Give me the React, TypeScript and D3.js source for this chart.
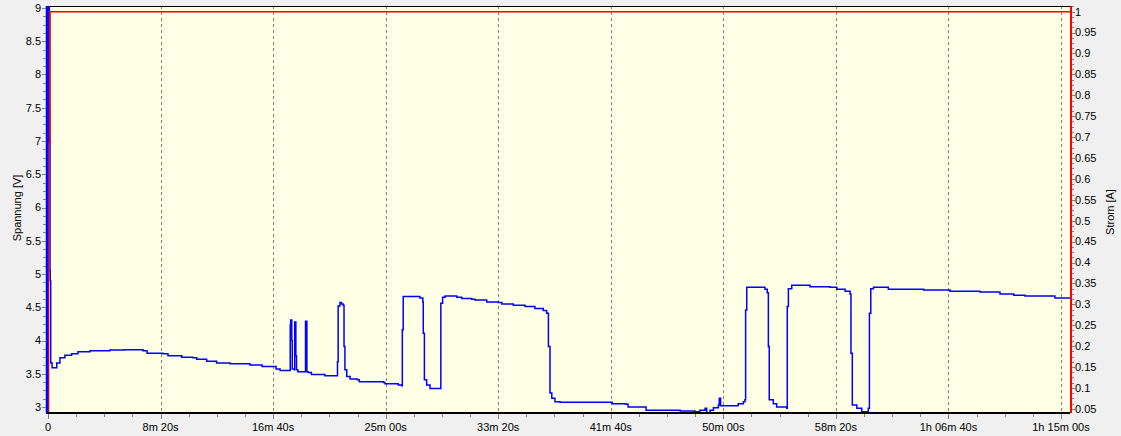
import React from "react";
import * as d3 from "d3";

const W = 1121;
const H = 436;
const PLOT = { left: 48, right: 1070, top: 6, bottom: 413 };

// Voltage series (time in seconds, volts)
const TIME_S = [
  0, 1, 5, 6, 8, 9, 10, 12, 13, 18, 39, 53, 75, 105, 133, 187, 275, 340, 422, 440,
  511, 533, 594, 644, 661, 705, 742, 749, 809, 897, 951, 1013, 1031, 1075, 1076, 1078, 1081, 1083, 1085, 1094,
  1096, 1099, 1101, 1104, 1110, 1142, 1144, 1148, 1150, 1156, 1170, 1222, 1230, 1282, 1286, 1289, 1297, 1304, 1311, 1315,
  1319, 1327, 1342, 1374, 1383, 1490, 1497, 1556, 1571, 1574, 1578, 1638, 1652, 1665, 1667, 1672, 1682, 1697, 1741, 1745,
  1753, 1764, 1816, 1838, 1882, 1897, 1949, 2000, 2016, 2067, 2119, 2163, 2200, 2215, 2223, 2230, 2238, 2252, 2275, 2506,
  2568, 2577, 2657, 2808, 2874, 2896, 2919, 2926, 2941, 2956, 2978, 2982, 2988, 3044, 3066, 3089, 3096, 3099, 3104, 3163,
  3185, 3195, 3200, 3204, 3222, 3237, 3282, 3284, 3289, 3304, 3355, 3385, 3474, 3504, 3541, 3563, 3567, 3573, 3593, 3615,
  3629, 3644, 3649, 3655, 3667, 3733, 3785, 3890, 4007, 4140, 4229, 4290, 4340, 4473, 4540,
];
const VOLTAGE_V = [
  2.85, 9.6, 9.6, 7.45, 7.0, 5.05, 4.9, 3.68, 3.66, 3.59, 3.66, 3.74, 3.78, 3.8, 3.83, 3.845, 3.857, 3.86, 3.846, 3.81,
  3.8, 3.77, 3.75, 3.74, 3.72, 3.69, 3.69, 3.66, 3.65, 3.63, 3.61, 3.57, 3.55, 3.55, 4.23, 4.31, 4.31, 4.0, 3.57, 3.56,
  4.28, 4.28, 3.77, 3.56, 3.53, 3.53, 4.29, 4.29, 3.53, 3.52, 3.49, 3.49, 3.47, 3.47, 3.68, 4.52, 4.57, 4.55, 4.53, 3.91,
  3.56, 3.46, 3.42, 3.41, 3.38, 3.37, 3.35, 3.33, 3.32, 4.16, 4.66, 4.66, 4.64, 4.58, 4.11, 3.41, 3.33, 3.28, 3.28, 4.56,
  4.65, 4.67, 4.65, 4.63, 4.62, 4.61, 4.58, 4.57, 4.55, 4.53, 4.51, 4.48, 4.45, 4.41, 3.91, 3.21, 3.13, 3.08, 3.07, 3.05,
  3.04, 3.0, 2.95, 2.94, 2.93, 2.95, 2.98, 2.91, 2.95, 2.99, 3.03, 3.13, 3.02, 3.02, 3.05, 3.08, 3.11, 4.46, 4.8, 4.8,
  4.77, 4.72, 3.91, 3.11, 3.05, 3.0, 2.98, 4.51, 4.78, 4.83, 4.83, 4.81, 4.8, 4.77, 4.74, 4.7, 3.81, 3.03, 2.98, 2.93,
  2.93, 2.98, 4.41, 4.78, 4.8, 4.77, 4.77, 4.76, 4.74, 4.73, 4.7, 4.68, 4.67, 4.64, 4.63,
];

// Current series (time in seconds, amperes)
const CURRENT_T = [0, 2, 2.2, 8.5, 9, 4540];
const CURRENT_A = [0, 0, 0.686, 0.686, 1.0, 1.0];

const X_TICKS = [0, 500, 1000, 1500, 2000, 2500, 3000, 3500, 4000, 4500];
const X_TICK_LABELS = ["0", "8m 20s", "16m 40s", "25m 00s", "33m 20s", "41m 40s", "50m 00s", "58m 20s", "1h 06m 40s", "1h 15m 00s"];
const V_TICKS = [3, 3.5, 4, 4.5, 5, 5.5, 6, 6.5, 7, 7.5, 8, 8.5, 9];
const A_TICKS = [0.05, 0.1, 0.15, 0.2, 0.25, 0.3, 0.35, 0.4, 0.45, 0.5, 0.55, 0.6, 0.65, 0.7, 0.75, 0.8, 0.85, 0.9, 0.95, 1];

const FONT = "'Liberation Sans', Arial, sans-serif";

export default function App() {
  const x = d3.scaleLinear().domain([0, 4540]).range([PLOT.left, PLOT.right]);
  const yV = d3.scaleLinear().domain([2.91, 9.03]).range([PLOT.bottom, PLOT.top]);
  const yA = d3.scaleLinear().domain([0.04, 1.0136]).range([PLOT.bottom, PLOT.top]);

  const vData = TIME_S.map((t, i) => [t, VOLTAGE_V[i]] as [number, number]);
  const aData = CURRENT_T.map((t, i) => [t, CURRENT_A[i]] as [number, number]);

  const vLine = d3.line<[number, number]>().x((d) => x(d[0])).y((d) => yV(d[1])).curve(d3.curveStepAfter);
  const aLine = d3.line<[number, number]>().x((d) => x(d[0])).y((d) => yA(d[1])).curve(d3.curveStepAfter);

  const xMinor = d3.range(0, 4541, 125).filter((t) => t % 500 !== 0);
  const vMinor = d3.range(24, 73).map((i) => i * 0.125).filter((v) => v >= 2.91 && v <= 9.03 && Math.abs(v * 2 - Math.round(v * 2)) > 1e-6);
  const aMinor = d3.range(4, 82).map((i) => i * 0.0125).filter((a) => a >= 0.04 && a <= 1.0136 && Math.abs(a * 20 - Math.round(a * 20)) > 1e-6);

  const tickColor = "#808080";

  return (
    <svg width={W} height={H} style={{ position: "absolute", left: 0, top: 0 }} fontFamily={FONT}>
      <defs>
        <clipPath id="plotclip">
          <rect x={PLOT.left} y={PLOT.top} width={PLOT.right - PLOT.left} height={PLOT.bottom - PLOT.top} />
        </clipPath>
      </defs>
      <rect x={0} y={0} width={W} height={H} fill="#F0F0F0" />
      <rect x={PLOT.left} y={PLOT.top} width={PLOT.right - PLOT.left} height={PLOT.bottom - PLOT.top} fill="#FFFFE6" />

      {/* vertical grid */}
      {X_TICKS.filter((t) => t > 0).map((t) => (
        <line key={"g" + t} x1={Math.round(x(t)) + 0.5} x2={Math.round(x(t)) + 0.5} y1={PLOT.top} y2={PLOT.bottom}
          stroke="#808080" strokeWidth={1} strokeDasharray="3,3" />
      ))}

      {/* top border */}
      <line x1={PLOT.left} x2={PLOT.right} y1={PLOT.top + 0.5} y2={PLOT.top + 0.5} stroke="#000" strokeWidth={1} />

      {/* series */}
      <g clipPath="url(#plotclip)">
        <path d={vLine(vData) || ""} fill="none" stroke="#0000FF" strokeWidth={1.5} />
        <path d={aLine(aData) || ""} fill="none" stroke="#FF0000" strokeWidth={1.6} />
      </g>

      {/* bottom axis */}
      <line x1={PLOT.left - 2} x2={PLOT.right} y1={PLOT.bottom} y2={PLOT.bottom} stroke="#000" strokeWidth={2} />
      {xMinor.map((t) => (
        <line key={"xm" + t} x1={Math.round(x(t)) + 0.5} x2={Math.round(x(t)) + 0.5} y1={PLOT.bottom + 1} y2={PLOT.bottom + 4}
          stroke={tickColor} />
      ))}
      {X_TICKS.map((t, i) => (
        <g key={"xt" + t}>
          <line x1={Math.round(x(t)) + 0.5} x2={Math.round(x(t)) + 0.5} y1={PLOT.bottom + 1} y2={PLOT.bottom + 6} stroke={tickColor} />
          <text x={x(t)} y={PLOT.bottom + 18} textAnchor="middle" fontSize={11} fill="#000">{X_TICK_LABELS[i]}</text>
        </g>
      ))}

      {/* left axis */}
      <line x1={PLOT.left - 1} x2={PLOT.left - 1} y1={PLOT.top} y2={PLOT.bottom} stroke="#0000FF" strokeWidth={2.5} />
      {vMinor.map((v) => (
        <line key={"vm" + v} x1={PLOT.left - 5} x2={PLOT.left - 2} y1={Math.round(yV(v)) + 0.5} y2={Math.round(yV(v)) + 0.5} stroke={tickColor} />
      ))}
      {V_TICKS.map((v) => (
        <g key={"vt" + v}>
          <line x1={PLOT.left - 6} x2={PLOT.left - 2} y1={Math.round(yV(v)) + 0.5} y2={Math.round(yV(v)) + 0.5} stroke={tickColor} />
          <text x={PLOT.left - 7} y={yV(v)} dy="0.35em" textAnchor="end" fontSize={11} fill="#000">{String(v)}</text>
        </g>
      ))}
      <text transform={`translate(17, 208) rotate(-90)`} textAnchor="middle" fontSize={11} fill="#000" dy="0.35em">Spannung [V]</text>

      {/* right axis */}
      <line x1={PLOT.right + 1} x2={PLOT.right + 1} y1={PLOT.top} y2={PLOT.bottom} stroke="#FF0000" strokeWidth={2} />
      {aMinor.map((a) => (
        <line key={"am" + a} x1={PLOT.right + 2} x2={PLOT.right + 4} y1={Math.round(yA(a)) + 0.5} y2={Math.round(yA(a)) + 0.5} stroke={tickColor} />
      ))}
      {A_TICKS.map((a) => (
        <g key={"at" + a}>
          <line x1={PLOT.right + 2} x2={PLOT.right + 5} y1={Math.round(yA(a)) + 0.5} y2={Math.round(yA(a)) + 0.5} stroke={tickColor} />
          <text x={PLOT.right + 5} y={yA(a)} dy="0.35em" textAnchor="start" fontSize={11} fill="#000">{String(a)}</text>
        </g>
      ))}
      <text transform={`translate(1110, 212) rotate(-90)`} textAnchor="middle" fontSize={11} fill="#000" dy="0.35em">Strom [A]</text>
    </svg>
  );
}
